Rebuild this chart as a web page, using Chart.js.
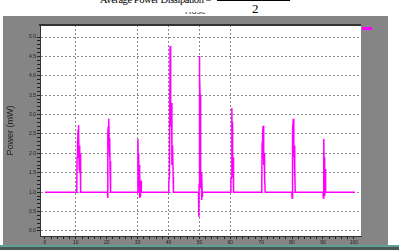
<!DOCTYPE html>
<html><head><meta charset="utf-8">
<script src="https://cdn.jsdelivr.net/npm/chart.js@4/dist/chart.umd.min.js"></script>
<style>
html,body{margin:0;padding:0;background:#fff;width:399px;height:250px;overflow:hidden;position:relative}
#roscClip{position:absolute;left:180px;top:12px;width:40px;height:4px;overflow:hidden}
#rosc{position:absolute;left:5px;top:-6px;font:9px "Liberation Sans",sans-serif;color:#333}
#panel{position:absolute;left:3px;top:16px;width:385px;height:229px;background:#858585}
#teal{position:absolute;left:0;top:245px;width:399px;height:2px;background:#5e9f97}
#dark{position:absolute;left:0;top:247px;width:399px;height:3px;background:#4a5656}
#eq{position:absolute;left:100px;top:-6px;font:10.5px "Liberation Serif",serif;letter-spacing:-0.45px;color:#000;white-space:nowrap}
#bar{position:absolute;left:217px;top:0;width:73px;height:1px;background:#000}
#two{position:absolute;left:252px;top:1px;font:13px "Liberation Serif",serif;color:#000}
#leg{position:absolute;left:362px;top:27px;width:10px;height:3px;background:#ff00ff}
canvas{position:absolute;left:0;top:0}
</style></head>
<body>
<div id="roscClip"><div id="rosc">Rosc</div></div>
<div id="panel"></div>
<div id="teal"></div>
<div id="dark"></div>
<div id="eq">Average Power Dissipation =</div>
<div id="bar"></div>
<div id="two">2</div>
<div id="leg"></div>
<canvas id="c" width="399" height="250"></canvas>
<script>
const timeUs = [0,
 10.3,10.4,10.5,10.6,10.7,10.8,10.9,11.0,11.1,11.2,11.3,11.4,11.5,11.6,
 20.2,20.3,20.4,20.5,20.6,20.7,20.8,20.9,21.0,21.1,21.2,21.3,
 30.0,30.1,30.2,30.3,30.4,30.5,30.6,30.7,30.8,30.9,31.0,31.1,31.2,
 40.0,40.1,40.3,40.5,40.6,40.8,41.0,41.1,41.3,41.5,41.6,
 49.7,49.8,49.9,50.0,50.1,50.2,50.3,50.4,50.5,50.6,50.7,50.8,50.9,51.0,
 60.1,60.2,60.4,60.5,60.6,60.7,60.8,60.9,61.0,61.1,
 70.1,70.2,70.3,70.4,70.5,70.6,70.7,70.8,70.9,71.0,71.1,71.3,
 79.9,80.0,80.1,80.2,80.4,80.5,80.6,80.7,80.8,80.9,81.0,
 90.0,90.1,90.2,90.3,90.4,90.5,90.6,90.7,90.8,90.9,
 100.3];
const powerMw = [1.0,
 1.0,1.9,2.35,2.0,2.6,2.73,1.9,2.5,1.6,2.2,1.55,2.0,1.7,1.0,
 1.0,0.85,2.5,2.7,2.2,2.89,2.3,1.9,2.4,1.5,1.8,1.0,
 1.0,2.37,1.6,2.0,1.2,1.7,0.85,1.5,0.9,1.3,1.0,1.3,1.0,
 1.0,1.3,1.39,4.77,4.5,2.7,3.3,1.7,2.2,1.4,1.0,
 1.0,0.36,1.2,4.51,4.0,3.5,2.5,1.8,1.1,1.5,0.8,1.4,0.9,1.0,
 1.0,1.31,1.4,3.17,2.3,2.8,1.6,1.9,1.4,1.0,
 1.0,1.3,2.3,2.0,2.5,2.71,2.1,2.3,1.7,2.0,1.4,1.0,
 1.0,0.85,1.2,2.6,2.89,2.3,1.9,2.2,1.4,1.7,1.0,
 1.0,0.85,1.3,2.37,1.4,1.9,0.9,1.6,1.1,1.0,
 1.0];
const xTickLabels = [0,10,20,30,40,50,60,70,80,90,100];
const yTickLabels = ['0.0','0.5','1.0','1.5','2.0','2.5','3.0','3.5','4.0','4.5','5.0'];
const xGridAt = [10,30,40,50,60];

const near = (v, arr) => arr.some(a => Math.abs(a - v) < 1e-6);
const yMajor = yTickLabels.map(Number);

const areaPlugin = {
  id: 'area',
  beforeDraw(c) {
    const {ctx, chartArea: a} = c;
    ctx.save();
    ctx.fillStyle = '#fff';
    ctx.fillRect(a.left, a.top, a.right - a.left, a.bottom - a.top);
    ctx.restore();
  },
  afterDraw(c) {
    const {ctx, chartArea: a} = c;
    ctx.save();
    ctx.strokeStyle = '#333';
    ctx.lineWidth = 2;
    ctx.beginPath();
    ctx.moveTo(a.left - 1, a.top);
    ctx.lineTo(a.right, a.top);
    ctx.stroke();
    ctx.restore();
  }
};

new Chart(document.getElementById('c'), {
  type: 'line',
  data: {
    datasets: [{
      data: timeUs.map((t, i) => ({x: t, y: powerMw[i]})),
      borderColor: '#ff00ff',
      borderWidth: 1.5,
      pointRadius: 0,
      tension: 0,
      fill: false
    }]
  },
  options: {
    responsive: false,
    animation: false,
    devicePixelRatio: 1,
    layout: {padding: {top: 25, right: 38, left: 0, bottom: 0}},
    plugins: {legend: {display: false}, tooltip: {enabled: false}},
    scales: {
      x: {
        type: 'linear',
        min: -1.6, max: 102.3,
        afterBuildTicks(s) {
          const t = [];
          for (let v = 0; v <= 100; v += 2) t.push({value: v});
          s.ticks = t;
        },
        afterFit(s) { s.height = 14; },
        ticks: {
          autoSkip: false, maxRotation: 0, padding: 1,
          callback: v => near(v, xTickLabels) ? String(v) : '',
          font: {size: 5, family: 'Liberation Sans'}, color: '#222'
        },
        grid: {
          color: ctx => (ctx.tick && near(ctx.tick.value, xGridAt)) ? '#8a8a8a' : 'rgba(0,0,0,0)',
          tickColor: '#222', tickLength: 3, lineWidth: 1
        },
        border: {display: true, color: '#333', width: 1, dash: [2, 2]}
      },
      y: {
        min: -0.13, max: 5.31,
        afterBuildTicks(s) {
          const t = [];
          for (let i = 0; i <= 50; i++) t.push({value: i / 10});
          s.ticks = t;
        },
        afterFit(s) { s.width = 40; },
        ticks: {
          autoSkip: false, padding: 1,
          callback: v => { const k = yMajor.findIndex(m => Math.abs(m - v) < 1e-6); return k >= 0 ? yTickLabels[k] : ''; },
          font: {size: 5, family: 'Liberation Sans'}, color: '#222'
        },
        grid: {
          color: ctx => (ctx.tick && near(ctx.tick.value, yMajor)) ? '#8a8a8a' : 'rgba(0,0,0,0)',
          tickColor: '#222', tickLength: 3, lineWidth: 1
        },
        border: {display: true, color: '#333', width: 1, dash: [2, 2]},
        title: {display: true, text: 'Power (mW)', color: '#222', padding: {top: 5, bottom: 0},
          font: {size: 9, family: 'Liberation Sans'}}
      }
    }
  },
  plugins: [areaPlugin]
});
</script>
</body></html>
